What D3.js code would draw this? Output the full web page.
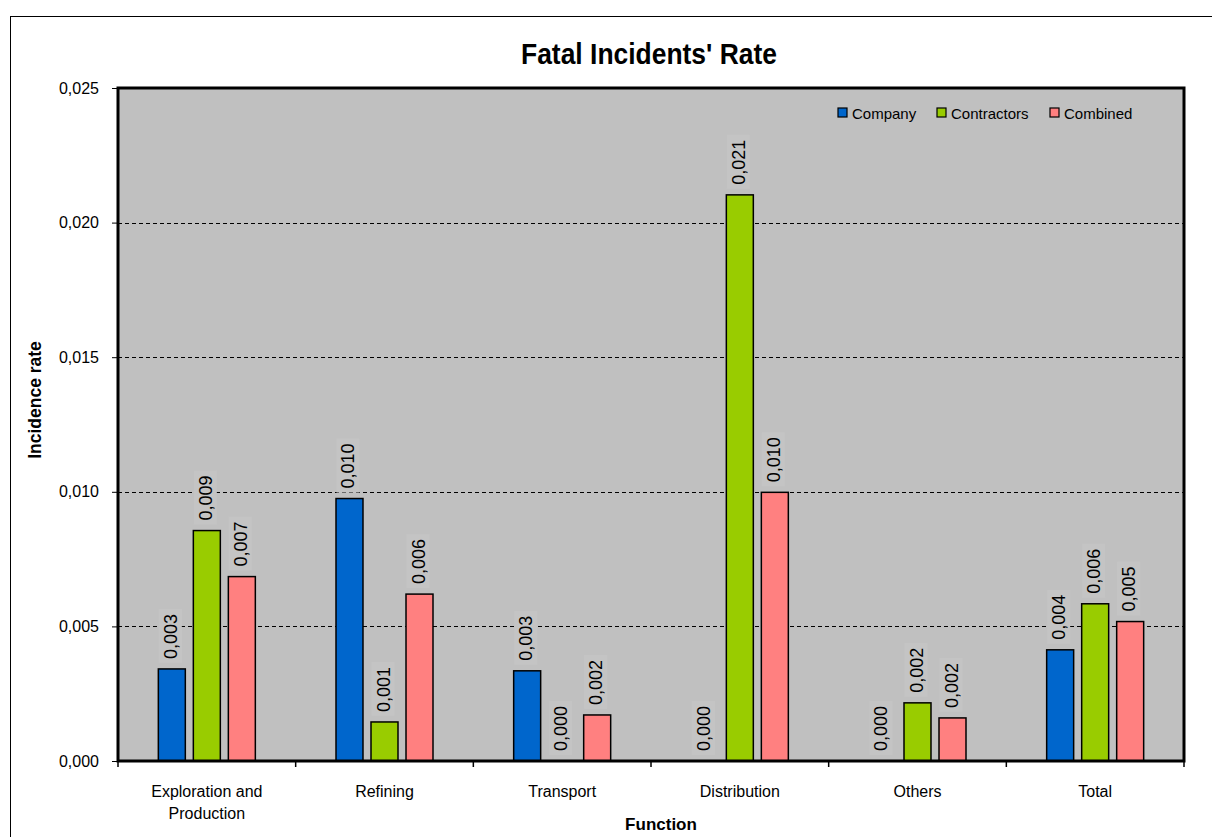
<!DOCTYPE html>
<html>
<head>
<meta charset="utf-8">
<script src="https://cdn.jsdelivr.net/npm/d3@7"></script>
<style>
  html, body { margin: 0; padding: 0; background: #fff; }
  svg { display: block; }
  text { font-family: "Liberation Sans", Arial, sans-serif; fill: #000; }
</style>
</head>
<body>
<svg id="chart" width="1212" height="837"></svg>
<script>
// Fatal incident rates per business function
const categories = ["Exploration and Production", "Refining", "Transport", "Distribution", "Others", "Total"];
const seriesNames = ["Company", "Contractors", "Combined"];
const company     = [0.00342, 0.00975, 0.00335, 0.0,     0.0,     0.00413];
const contractors = [0.00856, 0.00145, 0.0,     0.02103, 0.00216, 0.00584];
const combined    = [0.00685, 0.00620, 0.00171, 0.00998, 0.00160, 0.00518];
const yTicks = [0, 0.005, 0.010, 0.015, 0.020, 0.025];
const colors = ["#0066CC", "#99CC00", "#FF8080"];

const seriesValues = [company, contractors, combined];
const rows = categories.map((c, i) => ({
  category: c,
  values: seriesNames.map((s, j) => ({ series: s, value: seriesValues[j][i], color: colors[j] }))
}));

const svg = d3.select("#chart");
const plot = { left: 118, right: 1184, top: 88, bottom: 761 };
const groupWidth = 97;

const comma = v => d3.format(".3f")(v).replace(".", ",");

// outer chart frame
svg.append("rect")
  .attr("x", 10.5).attr("y", 16.5)
  .attr("width", 1220).attr("height", 840)
  .attr("fill", "#fff").attr("stroke", "#000").attr("stroke-width", 1);

const x = d3.scaleBand().domain(categories).range([plot.left, plot.right]);
const inner = d3.scaleBand().domain(seriesNames)
  .range([0, groupWidth]).paddingInner(0.229).paddingOuter(0);
const groupOffset = (x.bandwidth() - groupWidth) / 2;
const y = d3.scaleLinear().domain([0, 0.025]).range([plot.bottom, plot.top]);

// plot background
svg.append("rect")
  .attr("x", plot.left).attr("y", plot.top)
  .attr("width", plot.right - plot.left).attr("height", plot.bottom - plot.top)
  .attr("fill", "#C0C0C0");

// dashed gridlines
svg.append("g")
  .selectAll("line")
  .data(yTicks.filter(t => t > 0 && t < 0.025))
  .join("line")
  .attr("x1", plot.left).attr("x2", plot.right)
  .attr("y1", d => Math.round(y(d)) + 0.5).attr("y2", d => Math.round(y(d)) + 0.5)
  .attr("stroke", "#000").attr("stroke-width", 1)
  .attr("stroke-dasharray", "4,3");

// y axis
const yAxis = d3.axisLeft(y).tickValues(yTicks).tickFormat(comma).tickSize(6).tickPadding(13);
svg.append("g")
  .attr("transform", `translate(${plot.left},0)`)
  .call(yAxis)
  .call(g => g.select(".domain").remove())
  .call(g => g.selectAll("line").attr("stroke", "#000"))
  .call(g => g.selectAll("text").style("font-size", "16px").attr("fill", "#000")
    .style("font-family", "'Liberation Sans', Arial, sans-serif"));

// x axis ticks at band edges
const xEdges = categories.map(c => x(c)).concat([plot.right]);
svg.append("g")
  .selectAll("line")
  .data(xEdges)
  .join("line")
  .attr("x1", d => d).attr("x2", d => d)
  .attr("y1", plot.bottom).attr("y2", plot.bottom + 6)
  .attr("stroke", "#000").attr("stroke-width", 1.5);

// bars
const groups = svg.append("g")
  .selectAll("g")
  .data(rows)
  .join("g")
  .attr("transform", d => `translate(${x(d.category) + groupOffset},0)`);

groups.selectAll("rect")
  .data(d => d.values.filter(v => v.value > 0))
  .join("rect")
  .attr("x", d => inner(d.series))
  .attr("width", inner.bandwidth())
  .attr("y", d => y(d.value))
  .attr("height", d => y(0) - y(d.value))
  .attr("fill", d => d.color)
  .attr("stroke", "#000").attr("stroke-width", 1.5);

// value labels, rotated, with a background patch
const labels = groups.selectAll("g.lbl")
  .data(d => d.values)
  .join("g")
  .attr("class", "lbl")
  .attr("transform", d => `translate(${inner(d.series) + inner.bandwidth() / 2 + 5},${y(d.value) - 10}) rotate(-90)`);

labels.append("rect")
  .attr("x", -4).attr("y", -18)
  .attr("width", 54).attr("height", 23)
  .attr("fill", "#C4C4C4");

labels.append("text")
  .attr("x", 0).attr("y", 0)
  .style("font-size", "18px")
  .attr("fill", "#111")
  .text(d => comma(d.value));

// plot border
svg.append("rect")
  .attr("x", plot.left).attr("y", plot.top)
  .attr("width", plot.right - plot.left).attr("height", plot.bottom - plot.top)
  .attr("fill", "none").attr("stroke", "#000").attr("stroke-width", 3);

// category labels
const catText = svg.append("g")
  .selectAll("text")
  .data(categories)
  .join("text")
  .attr("x", d => x(d) + x.bandwidth() / 2)
  .attr("y", 797)
  .attr("text-anchor", "middle")
  .style("font-size", "16px");

catText.each(function(d) {
  const t = d3.select(this);
  const lines = d === "Exploration and Production" ? ["Exploration and", "Production"] : [d];
  lines.forEach((ln, i) => {
    t.append("tspan").attr("x", x(d) + x.bandwidth() / 2).attr("dy", i === 0 ? 0 : 22).text(ln);
  });
});

// titles
svg.append("text")
  .attr("x", 649).attr("y", 64)
  .attr("text-anchor", "middle")
  .attr("textLength", 256).attr("lengthAdjust", "spacingAndGlyphs")
  .style("font-size", "29px").style("font-weight", "bold")
  .text("Fatal Incidents' Rate");

svg.append("text")
  .attr("x", 661).attr("y", 830)
  .attr("text-anchor", "middle")
  .style("font-size", "17px").style("font-weight", "bold")
  .text("Function");

svg.append("text")
  .attr("transform", "translate(41,400) rotate(-90)")
  .attr("text-anchor", "middle")
  .style("font-size", "17.5px").style("font-weight", "bold")
  .text("Incidence rate");

// legend
const legend = svg.append("g").attr("transform", "translate(838,108)");
const legendX = [0, 99, 212];
seriesNames.forEach((s, i) => {
  const g = legend.append("g").attr("transform", `translate(${legendX[i]},0)`);
  g.append("rect").attr("x", 0).attr("y", 0).attr("width", 9).attr("height", 9)
    .attr("fill", colors[i]).attr("stroke", "#000").attr("stroke-width", 1.2);
  g.append("text").attr("x", 14).attr("y", 11).style("font-size", "15px").text(s);
});
</script>
</body>
</html>
